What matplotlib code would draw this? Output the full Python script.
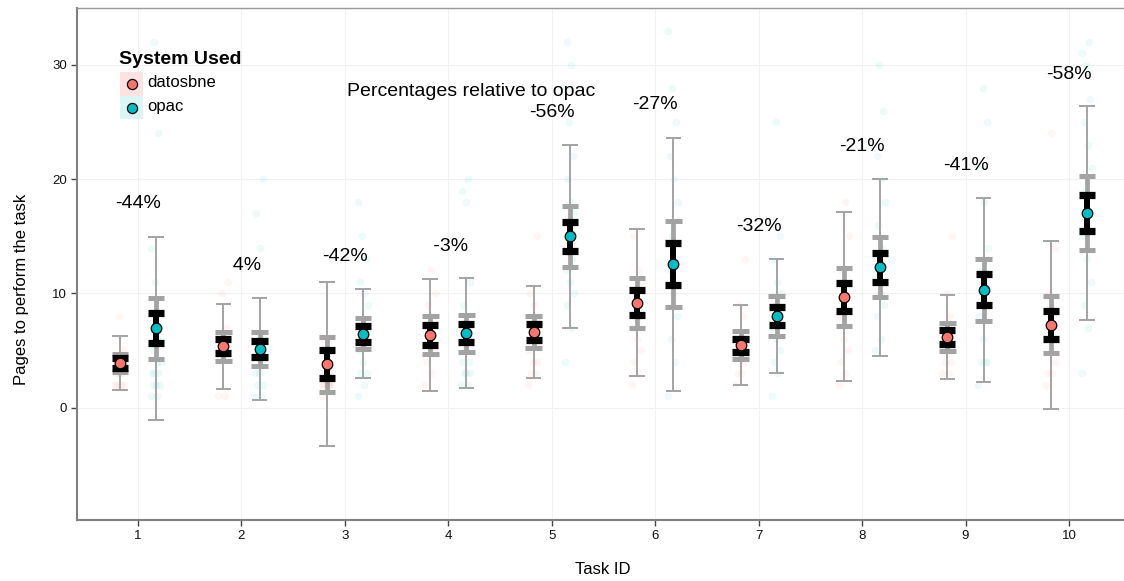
import matplotlib
matplotlib.use("Agg")
import matplotlib.pyplot as plt
from matplotlib.lines import Line2D
from matplotlib.patches import Rectangle
import numpy as np

plt.rcParams['font.family'] = ['Liberation Sans', 'DejaVu Sans']

# ---------------- data ----------------
tasks = [1, 2, 3, 4, 5, 6, 7, 8, 9, 10]
systems = ["datosbne", "opac"]
colors = {"datosbne": "#F8766D", "opac": "#00BFC4"}

datosbne_mean = [3.90, 5.35, 3.80, 6.35, 6.60, 9.17, 5.46, 9.68, 6.15, 7.23]
datosbne_sd = [2.37, 3.73, 7.15, 4.87, 4.04, 6.45, 3.50, 7.40, 3.66, 7.34]
datosbne_ci = [0.80, 1.25, 2.40, 1.67, 1.37, 2.18, 1.22, 2.50, 1.21, 2.50]
datosbne_se = [0.47, 0.61, 1.20, 0.86, 0.67, 1.10, 0.58, 1.22, 0.62, 1.22]

opac_mean = [6.94, 5.13, 6.46, 6.50, 14.98, 12.56, 8.01, 12.27, 10.32, 17.02]
opac_sd = [8.03, 4.44, 3.92, 4.82, 7.99, 11.08, 5.00, 7.74, 8.06, 9.36]
opac_ci = [2.67, 1.50, 1.35, 1.63, 2.69, 3.73, 1.72, 2.63, 2.72, 3.21]
opac_se = [1.31, 0.73, 0.69, 0.80, 1.30, 1.83, 0.82, 1.29, 1.34, 1.58]

# faint raw observations (approximate)
datosbne_raw = [
    [2, 2, 2, 2, 3, 3, 3, 3, 4, 4, 4, 5, 8],
    [1, 1, 4, 5, 5, 6, 7, 10, 11],
    [1, 2, 2, 2, 2, 2, 2, 3, 3, 4, 6],
    [2, 3, 4, 5, 6, 7, 8, 9, 10, 12],
    [2, 3, 3, 4, 4, 5, 6, 7, 8, 9, 10, 15],
    [2, 3, 4, 5, 6, 7, 8, 10, 11, 12, 15],
    [2, 3, 3, 4, 5, 6, 8, 9, 13],
    [2, 3, 4, 5, 6, 8, 10, 12, 15, 18],
    [3, 3, 4, 4, 5, 6, 8, 10, 15],
    [2, 3, 3, 4, 5, 6, 8, 10, 14, 24],
]
opac_raw = [
    [1, 1, 2, 2, 2, 3, 3, 3, 4, 4, 5, 6, 11, 14, 24, 32],
    [1, 1, 2, 2, 3, 3, 4, 5, 6, 14, 17, 20],
    [1, 2, 3, 3, 4, 5, 6, 7, 9, 10, 11, 13, 15, 18],
    [2, 2, 3, 3, 3, 4, 4, 5, 6, 7, 9, 11, 18, 19, 20],
    [4, 7, 9, 10, 11, 12, 13, 15, 17, 18, 20, 22, 25, 28, 30, 32],
    [1, 4, 6, 8, 10, 12, 13, 15, 18, 20, 22, 25, 28, 33],
    [1, 3, 4, 5, 6, 7, 8, 9, 10, 11, 13, 15, 25],
    [5, 6, 8, 9, 10, 12, 14, 16, 18, 20, 22, 26, 30],
    [2, 4, 4, 4, 6, 8, 10, 12, 14, 18, 21, 25, 28],
    [3, 7, 9, 11, 13, 15, 17, 19, 21, 23, 25, 27, 30, 31, 32],
]

pct_labels = ["-44%", "  4%", "-42%", " -3%", "-56%", "-27%", "-32%", "-21%", "-41%", "-58%"]
pct_label_y = [17.82, 12.42, 13.2, 14.08, 25.85, 26.49, 15.83, 22.84, 21.23, 29.2]

series = {
    "datosbne": (datosbne_mean, datosbne_sd, datosbne_ci, datosbne_se, datosbne_raw),
    "opac": (opac_mean, opac_sd, opac_ci, opac_se, opac_raw),
}

# ---------------- figure ----------------
W, H = 1124, 581
fig = plt.figure(figsize=(W / 100, H / 100), dpi=100)
ax_l, ax_r, ax_t, ax_b = 77, 1131, 8, 520
ax = fig.add_axes([ax_l / W, 1 - ax_b / H, (ax_r - ax_l) / W, (ax_b - ax_t) / H])
ax.set_xlim(0.41, 10.6)
ax.set_ylim(-9.85, 34.98)

ax.set_xticks(tasks)
ax.set_xticklabels([str(t) for t in tasks])
ax.set_yticks([0, 10, 20, 30])
ax.grid(True, color='#F1F1F1', lw=0.8)
ax.set_axisbelow(True)
for s in ['left', 'bottom']:
    ax.spines[s].set_color('#808080')
    ax.spines[s].set_linewidth(1.5)
ax.spines['top'].set_color('#9A9A9A')
ax.spines['top'].set_linewidth(1.0)
ax.spines['right'].set_color('#9A9A9A')
ax.tick_params(direction='out', length=4, width=1, color='#444444',
               labelsize=9.5, pad=3, labelcolor='#111111')

offsets = {"datosbne": -0.175, "opac": 0.175}
gray = '#A3A3A3'
t = np.array(tasks, dtype=float)
for sysname in systems:
    mean, sd, ci, se, raw = series[sysname]
    mean = np.array(mean); sd = np.array(sd); ci = np.array(ci); se = np.array(se)
    x = t + offsets[sysname]
    col = colors[sysname]
    xx = np.concatenate([x, x])
    # raw jittered points
    for xi, vals in zip(x, raw):
        n = len(vals)
        jit = ((np.arange(n) * 0.618034) % 1.0 - 0.5) * 0.1
        ax.scatter(xi + jit, vals, s=30, color=col, alpha=0.07, lw=0, zorder=1)
    # thin (sd)
    ax.vlines(x, mean - sd, mean + sd, color=gray, lw=1.4, zorder=2)
    ax.hlines(np.concatenate([mean - sd, mean + sd]), xx - 0.075, xx + 0.075,
              color=gray, lw=1.4, zorder=2)
    # thick gray (ci)
    ax.vlines(x, mean - ci, mean + ci, color=gray, lw=3.4, zorder=3)
    ax.hlines(np.concatenate([mean - ci, mean + ci]), xx - 0.08, xx + 0.08,
              color=gray, lw=3.6, zorder=3)
    # black (se)
    ax.vlines(x, mean - se, mean + se, color='black', lw=4.3, zorder=4)
    ax.hlines(np.concatenate([mean - se, mean + se]), xx - 0.078, xx + 0.078,
              color='black', lw=5.2, zorder=4)
    # mean points
    ax.scatter(x, mean, s=58, color=col, edgecolors='black', linewidths=0.9, zorder=6)

for ti, lab, ly in zip(tasks, pct_labels, pct_label_y):
    ax.text(ti, ly, lab, ha='center', va='center', fontsize=14, color='black', zorder=7)

ax.text(4.22, 27.65, "Percentages relative to opac", ha='center', va='center',
        fontsize=14, color='black', zorder=7)

# axis titles
fig.text(603 / W, 1 - 570 / H, "Task ID", ha='center', va='center', fontsize=12)
fig.text(22 / W, 1 - 289 / H, "Pages to perform the task", ha='center', va='center',
         fontsize=12, rotation=90)

# legend (manual)
def fx(px):
    return px / W

def fy(py):
    return 1 - py / H

fig.text(fx(119), fy(59), "System Used", ha='left', va='center', fontsize=14,
         fontweight='bold')
key_bg = {"datosbne": "#FCE3E1", "opac": "#DCF6F6"}
for i, sysname in enumerate(systems):
    top = 72 + 23.5 * i
    fig.add_artist(Rectangle((fx(120), fy(top + 23.5)), 23 / W, 23.5 / H,
                             transform=fig.transFigure, facecolor=key_bg[sysname],
                             edgecolor='none'))
    fig.add_artist(Line2D([fx(131.5)], [fy(top + 12)], transform=fig.transFigure,
                          marker='o', markersize=7.3, markerfacecolor=colors[sysname],
                          markeredgecolor='black', markeredgewidth=0.9, linestyle='none'))
    fig.text(fx(147), fy(top + 11), sysname, ha='left', va='center', fontsize=12)

fig.savefig("out.png", dpi=100, facecolor='white')
